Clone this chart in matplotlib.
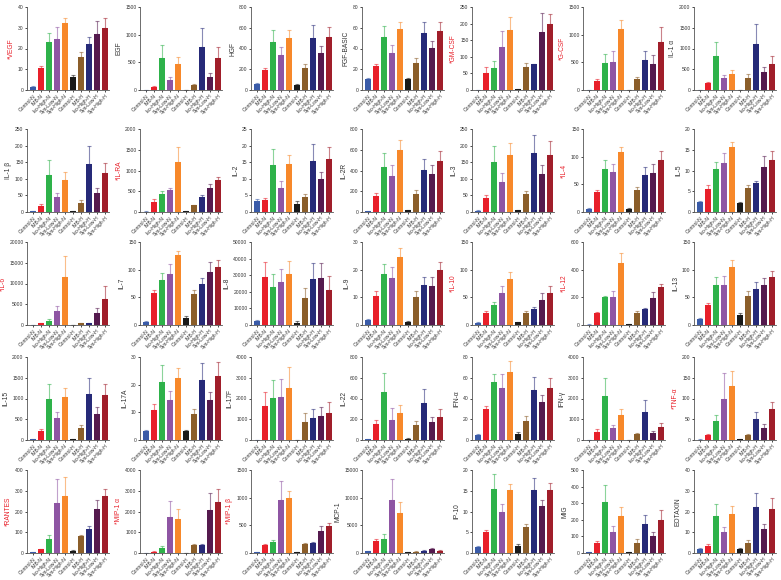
import matplotlib
matplotlib.use("Agg")
import matplotlib.pyplot as plt
import numpy as np

plt.rcParams["font.family"] = ["Liberation Sans", "DejaVu Sans"]

groups = ["Control-N", "IMB-N", "Iso-High-N", "Sya-Low-N", "Sya-High-N",
          "Control-H", "IMB-H", "Iso-High-H", "Sya-Low-H", "Sya-High-H"]
colors = ["#3a5ba8", "#e8202a", "#2eb24a", "#8e55a3", "#f7882a",
          "#1a1a1a", "#8b5e2a", "#262a78", "#551a4e", "#a01e2a"]

# mean / error per cytokine (10 groups each)
VEGF_m = [1.5, 10.5, 23, 24.5, 32.3, 6.3, 15.8, 22, 27, 29.8]
VEGF_e = [0.3, 1.3, 4.5, 6, 2.3, 0.8, 2.5, 3.5, 6.3, 5]
EGF_m = [0, 50, 570, 175, 470, 5, 85, 785, 235, 580]
EGF_e = [0, 15, 240, 60, 130, 2, 20, 330, 75, 190]
HGF_m = [60, 190, 460, 335, 500, 45, 215, 500, 360, 510]
HGF_e = [10, 20, 115, 75, 75, 15, 40, 125, 60, 100]
FGF_m = [11, 23.5, 51, 36, 58.5, 11, 26.5, 55, 40.5, 57]
FGF_e = [0.5, 2, 11, 7, 7.5, 0.5, 4, 11, 7, 9]
GMCSF_m = [1, 52, 66, 129, 180, 2, 68, 77, 175, 199]
GMCSF_e = [0.5, 17, 20, 50, 40, 1, 12, 2, 58, 31]
GCSF_m = [0, 170, 490, 510, 1095, 0, 190, 540, 475, 875]
GCSF_e = [0, 20, 160, 200, 175, 0, 45, 170, 160, 265]
IL1A_m = [5, 160, 815, 285, 390, 5, 290, 1115, 440, 630]
IL1A_e = [2, 30, 350, 75, 90, 3, 90, 465, 110, 190]

IL1B_m = [3, 18, 112, 45, 97, 3, 27, 146, 57, 116]
IL1B_e = [1, 6, 44, 12, 22, 1, 9, 54, 14, 33]
ILRA_m = [10, 240, 430, 530, 1200, 20, 160, 370, 590, 780]
ILRA_e = [5, 70, 70, 45, 370, 5, 20, 40, 90, 60]
IL2_m = [3.3, 3.6, 14.3, 7.2, 14.5, 2.4, 4.4, 15.5, 9.8, 15.9]
IL2_e = [0.6, 0.6, 4.8, 2.1, 2.7, 0.9, 1.1, 4.9, 2.1, 3.8]
IL2R_m = [5, 150, 435, 346, 600, 16, 171, 405, 369, 487]
IL2R_e = [2, 32, 132, 105, 98, 4, 43, 105, 85, 102]
IL3_m = [4, 42, 150, 90, 172, 5, 54, 178, 113, 173]
IL3_e = [1, 8, 50, 27, 35, 1, 10, 55, 28, 42]
IL4_m = [5, 36, 77, 72, 108, 6, 40, 67, 71, 94]
IL4_e = [2, 4, 17, 15, 9, 2, 6, 14, 16, 17]
IL5_m = [2.4, 5.6, 10.3, 11.9, 15.7, 2.1, 5.9, 6.9, 10.8, 12.6]
IL5_e = [0.3, 1, 1.7, 2.4, 1.2, 0.4, 0.7, 0.5, 2.7, 2.2]

IL6_m = [50, 400, 1000, 3300, 11600, 30, 400, 450, 2800, 6300]
IL6_e = [20, 150, 400, 1200, 5000, 10, 150, 100, 1300, 3000]
IL7_m = [6, 57, 81, 92, 126, 12, 56, 74, 96, 104]
IL7_e = [2, 6, 13, 18, 7, 4, 8, 11, 18, 14]
IL8_m = [2500, 29000, 23000, 26200, 30500, 1500, 16000, 27800, 28300, 21000]
IL8_e = [700, 9000, 8000, 7800, 8300, 700, 6500, 9300, 9000, 8500]
IL9_m = [1.8, 10.5, 18.5, 17, 24.5, 1.2, 10.2, 14.5, 14, 19.8]
IL9_e = [0.4, 1.7, 3.6, 4, 3.3, 0.2, 2.2, 3, 3.5, 3.1]
IL10_m = [4, 22, 36, 57, 83, 5, 22, 29, 45, 58]
IL10_e = [1, 3, 6, 14, 12, 1, 4, 4, 12, 13]
IL12_m = [3, 87, 200, 203, 447, 5, 90, 115, 195, 275]
IL12_e = [1, 5, 12, 40, 70, 2, 10, 8, 40, 20]
IL13_m = [10, 37, 72, 73, 104, 18, 53, 65, 72, 86]
IL13_e = [2, 3, 15, 15, 13, 4, 9, 12, 13, 12]

IL15_m = [25, 205, 990, 520, 1030, 25, 290, 1120, 630, 1090]
IL15_e = [5, 70, 370, 150, 230, 5, 80, 380, 160, 270]
IL17A_m = [3.4, 10.8, 20.9, 14.4, 22.4, 3.3, 9.3, 21.8, 14.3, 23]
IL17A_e = [0.2, 2.3, 6.2, 3.2, 3.6, 0.2, 2, 6, 3.2, 5.2]
IL17F_m = [0, 1640, 2040, 2080, 2530, 0, 890, 1080, 1150, 1310]
IL17F_e = [0, 680, 850, 870, 1000, 0, 390, 400, 450, 500]
IL22_m = [8, 150, 465, 189, 261, 13, 140, 352, 170, 225]
IL22_e = [3, 40, 180, 121, 72, 4, 46, 137, 55, 72]
IFNA_m = [5, 29.5, 55.5, 50.5, 66, 6, 18.5, 48.5, 37, 50.5]
IFNA_e = [0.8, 3.5, 8.5, 13, 10, 1.8, 4.5, 12.5, 6, 9.5]
IFNG_m = [0, 370, 2110, 560, 1200, 0, 270, 1360, 360, 630]
IFNG_e = [0, 140, 860, 150, 300, 0, 90, 560, 90, 200]
TNFA_m = [1, 12, 46, 100, 131, 2, 12, 51, 30, 75]
TNFA_e = [0.5, 2, 14, 62, 36, 0.5, 2.5, 17, 8, 17]

RANTES_m = [5, 17, 66, 240, 273, 10, 83, 117, 214, 275]
RANTES_e = [1, 3, 23, 117, 93, 3, 2, 15, 42, 33]
MIP1A_m = [0, 60, 230, 1720, 1640, 0, 370, 390, 2080, 2440]
MIP1A_e = [0, 20, 90, 780, 500, 0, 80, 20, 800, 630]
MIP1B_m = [15, 140, 200, 950, 1000, 15, 170, 180, 395, 480]
MIP1B_e = [3, 20, 30, 350, 120, 3, 8, 20, 90, 55]
MCP1_m = [300, 2200, 2600, 9650, 7300, 120, 250, 310, 680, 430]
MCP1_e = [80, 300, 800, 3800, 1900, 50, 180, 240, 300, 185]
IP10_m = [1.5, 5, 15.5, 9.8, 15.1, 1.8, 6.3, 15.2, 11.3, 15.3]
IP10_e = [0.3, 0.6, 3.5, 1.9, 1.5, 0.3, 0.7, 2.9, 1.4, 1.5]
MIG_m = [5, 60, 310, 125, 225, 5, 60, 175, 100, 200]
MIG_e = [1, 12, 100, 40, 50, 1, 22, 55, 25, 60]
EOTAXIN_m = [2, 3.5, 18, 10, 19, 2, 5, 22, 11.5, 21]
EOTAXIN_e = [0.4, 0.6, 5.5, 2.4, 3.6, 0.3, 1.2, 6.8, 2.3, 5.5]

# (label, significant, means, errors, y max, tick step)
panels = [
    ("*VEGF", True, VEGF_m, VEGF_e, 40, 10),
    ("EGF", False, EGF_m, EGF_e, 1500, 500),
    ("HGF", False, HGF_m, HGF_e, 800, 200),
    ("FGF-BASIC", False, FGF_m, FGF_e, 80, 20),
    ("*GM-CSF", True, GMCSF_m, GMCSF_e, 250, 50),
    ("*G-CSF", True, GCSF_m, GCSF_e, 1500, 500),
    ("IL-1 α", False, IL1A_m, IL1A_e, 2000, 500),
    ("IL-1 β", False, IL1B_m, IL1B_e, 250, 50),
    ("*IL-RA", True, ILRA_m, ILRA_e, 2000, 500),
    ("IL-2", False, IL2_m, IL2_e, 25, 5),
    ("IL-2R", False, IL2R_m, IL2R_e, 800, 200),
    ("IL-3", False, IL3_m, IL3_e, 250, 50),
    ("*IL-4", True, IL4_m, IL4_e, 150, 50),
    ("IL-5", False, IL5_m, IL5_e, 20, 5),
    ("*IL-6", True, IL6_m, IL6_e, 20000, 5000),
    ("IL-7", False, IL7_m, IL7_e, 150, 50),
    ("IL-8", False, IL8_m, IL8_e, 50000, 10000),
    ("IL-9", False, IL9_m, IL9_e, 30, 10),
    ("*IL-10", True, IL10_m, IL10_e, 150, 50),
    ("*IL-12", True, IL12_m, IL12_e, 600, 200),
    ("IL-13", False, IL13_m, IL13_e, 150, 50),
    ("IL-15", False, IL15_m, IL15_e, 2000, 500),
    ("IL-17A", False, IL17A_m, IL17A_e, 30, 10),
    ("IL-17F", False, IL17F_m, IL17F_e, 4000, 1000),
    ("IL-22", False, IL22_m, IL22_e, 800, 200),
    ("IFN-α", False, IFNA_m, IFNA_e, 80, 20),
    ("IFN-γ", False, IFNG_m, IFNG_e, 4000, 1000),
    ("*TNF-α", True, TNFA_m, TNFA_e, 200, 50),
    ("*RANTES", True, RANTES_m, RANTES_e, 400, 100),
    ("*MIP-1 α", True, MIP1A_m, MIP1A_e, 4000, 1000),
    ("*MIP-1 β", True, MIP1B_m, MIP1B_e, 1500, 500),
    ("MCP-1", False, MCP1_m, MCP1_e, 15000, 5000),
    ("IP-10", False, IP10_m, IP10_e, 20, 5),
    ("MIG", False, MIG_m, MIG_e, 500, 100),
    ("EOTAXIN", False, EOTAXIN_m, EOTAXIN_e, 40, 10),
]

W, H = 781, 580
fig = plt.figure(figsize=(W / 100, H / 100), dpi=100)

col_x = [27, 140, 251, 362, 472, 583, 694]   # left edge of each axis, px
row_top = [7, 129, 242, 357, 470]             # top of each axis, px
aw, ah = 82, 83

x = np.arange(len(groups))
for i, (name, sig, m, e, ymax, step) in enumerate(panels):
    r, c = divmod(i, 7)
    ax = fig.add_axes([col_x[c] / W, 1 - (row_top[r] + ah) / H, aw / W, ah / H])
    ax.bar(x, m, width=0.72, color=colors, zorder=2)
    for xi, mi, ei, col in zip(x, m, e, colors):
        ax.errorbar(xi, mi, yerr=[[0], [ei]], fmt="none", ecolor=col,
                    alpha=0.55, elinewidth=0.8, capsize=1.3, capthick=0.8, zorder=1)
    ax.set_xlim(-0.75, 9.5)
    ax.set_ylim(0, ymax)
    ax.set_yticks(np.arange(0, ymax + step / 2, step))
    ax.set_xticks(x)
    ax.set_xticklabels(groups, rotation=45, ha="right", rotation_mode="anchor",
                       fontsize=3.6, color="#333333")
    ax.tick_params(axis="y", labelsize=3.6, length=1.5, width=0.5, pad=1,
                   labelcolor="#333333")
    ax.tick_params(axis="x", length=1.5, width=0.5, pad=1)
    ax.set_ylabel(name, fontsize=4.8, color="#e8202a" if sig else "#333333",
                  labelpad=2)
    for s in ("top", "right"):
        ax.spines[s].set_visible(False)
    for s in ("left", "bottom"):
        ax.spines[s].set_linewidth(0.6)
        ax.spines[s].set_color("#555555")

fig.savefig("out.png", dpi=100, facecolor="white")
